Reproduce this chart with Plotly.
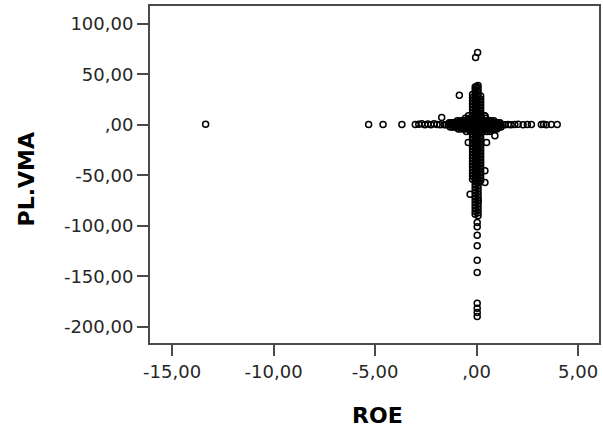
import plotly.graph_objects as go

# ---- axis ticks ----
x_tickvals = [-15, -10, -5, 0, 5]
x_ticktext = ["-15,00", "-10,00", "-5,00", ",00", "5,00"]
y_tickvals = [100, 50, 0, -50, -100, -150, -200]
y_ticktext = ["100,00", "50,00", ",00", "-50,00", "-100,00", "-150,00", "-200,00"]

# ---- sparse / isolated observations (ROE, PL.VMA) ----
sparse_roe = [-13.35, -5.32, -4.61, -3.68, -3.02, -2.85, -2.70, -2.55, -2.40, -2.25,
              -2.10, -1.95, -1.80, -1.72,
              1.56, 1.70, 1.88, 2.05, 2.29, 2.50, 2.70, 3.19, 3.30, 3.43, 3.68, 3.97,
              0.05, -0.05, -0.85, 0.00, 0.05,
              0.41, -0.41, 0.49, 0.90, 0.75, 0.41, 0.41, -0.32, 0.08,
              0.03, 0.03, 0.03, 0.03, 0.03, 0.03, 0.03, 0.03, 0.03, 0.03]
sparse_pl = [0.5, 0.3, 0.3, 0.3, 0.3, 0.5, 1.0, 0.2, 0.8, 0.0,
             1.2, 0.4, 0.0, 7.2,
             0.3, 0.0, 0.3, 0.5, 0.0, 0.3, 0.3, 0.3, 0.5, 0.0, 0.3, 0.3,
             71.7, 66.7, 29.4, 38.0, 33.0,
             8.9, -17.5, -17.5, -10.9, -5.0, -45.6, -57.2, -68.7, -75.0,
             -96.8, -101.0, -109.3, -119.9, -134.1, -146.4, -176.7, -181.7, -186.0, -190.0]

# ---- dense horizontal band: rows of observations around PL.VMA = 0 ----
hrow_pl = [0.0, 2.0, -2.0, 4.0, -4.0, 6.5, -6.5, 9.0]
hrow_roe = [
    [-1.6, -1.5, -1.4, -1.3, -1.2, -1.1, -1.0, -0.9, -0.8, -0.7, -0.6, -0.5, -0.4, -0.3,
     -0.2, -0.1, 0.0, 0.1, 0.2, 0.3, 0.4, 0.5, 0.6, 0.7, 0.8, 0.9, 1.0, 1.1, 1.2, 1.3, 1.4],
    [-1.35, -1.25, -1.15, -1.05, -0.95, -0.85, -0.75, -0.65, -0.55, -0.45, -0.35, -0.25,
     -0.15, -0.05, 0.05, 0.15, 0.25, 0.35, 0.45, 0.55, 0.65, 0.75, 0.85, 0.95, 1.05, 1.15],
    [-1.3, -1.2, -1.1, -1.0, -0.9, -0.8, -0.7, -0.6, -0.5, -0.4, -0.3, -0.2, -0.1, 0.0,
     0.1, 0.2, 0.3, 0.4, 0.5, 0.6, 0.7, 0.8, 0.9, 1.0, 1.1, 1.2],
    [-0.95, -0.8, -0.65, -0.5, -0.35, -0.2, -0.05, 0.1, 0.25, 0.4, 0.55, 0.7, 0.85],
    [-0.9, -0.75, -0.6, -0.45, -0.3, -0.15, 0.0, 0.15, 0.3, 0.45, 0.6, 0.75, 0.9, 1.0],
    [-0.55, -0.35, -0.15, 0.05, 0.25, 0.45],
    [-0.5, -0.3, -0.1, 0.1, 0.3, 0.5, 0.65],
    [-0.4, -0.2, 0.2, 0.4],
]

# ---- dense vertical band: columns of observations around ROE = 0 ----
vcol_roe = [-0.2, -0.07, 0.07, 0.2]
vcol_pl = [
    [30, 27, 24, 21, 18, 15, 12, 9, 6, 3, 0, -3, -6, -9, -12, -15, -18, -21, -24, -27,
     -30, -33, -36, -39, -42, -45, -48, -51, -54],
    [37.5, 34.5, 31.5, 28.5, 25.5, 22.5, 19.5, 16.5, 13.5, 10.5, 7.5, 4.5, 1.5, -1.5,
     -4.5, -7.5, -10.5, -13.5, -16.5, -19.5, -22.5, -25.5, -28.5, -31.5, -34.5, -37.5,
     -40.5, -43.5, -46.5, -49.5, -52.5, -55.5, -58.5, -61.5, -64.5, -67.5, -70.5, -73.5,
     -76.5, -79.5, -82.5, -85.5, -88.5],
    [39, 36, 33, 30, 27, 24, 21, 18, 15, 12, 9, 6, 3, 0, -3, -6, -9, -12, -15, -18, -21,
     -24, -27, -30, -33, -36, -39, -42, -45, -48, -51, -54, -57, -60, -63, -66, -69, -72,
     -75, -78, -81, -84, -87, -90],
    [28.5, 25.5, 22.5, 19.5, 16.5, 13.5, 10.5, 7.5, 4.5, 1.5, -1.5, -4.5, -7.5, -10.5,
     -13.5, -16.5, -19.5, -22.5, -25.5, -28.5, -31.5, -34.5, -37.5, -40.5, -43.5, -46.5,
     -49.5, -52.5, -55.5],
]

marker_style = dict(symbol="circle-open", size=6, color="black",
                    line=dict(width=1.5, color="black"))

fig = go.Figure()


def add_points(xs, ys):
    fig.add_trace(go.Scatter(x=xs, y=ys, mode="markers", marker=marker_style,
                             showlegend=False, hoverinfo="x+y"))


for row_y, row_x in zip(hrow_pl, hrow_roe):
    add_points(row_x, [row_y] * len(row_x))
for col_x, col_y in zip(vcol_roe, vcol_pl):
    add_points([col_x] * len(col_y), col_y)
add_points(sparse_roe, sparse_pl)

axis_common = dict(
    showgrid=False, zeroline=False, showline=True, linecolor="#4a4a4a", linewidth=2,
    mirror=True, ticks="outside", ticklen=11, tickwidth=2, tickcolor="#4a4a4a",
    tickfont=dict(family="DejaVu Sans", size=18, color="#262626"),
)

fig.update_layout(
    width=603, height=434,
    margin=dict(l=150, r=2, t=6, b=91),
    paper_bgcolor="white", plot_bgcolor="white",
    xaxis=dict(range=[-16.09, 6.03], tickvals=x_tickvals, ticktext=x_ticktext, **axis_common),
    yaxis=dict(range=[-216.2, 117.8], tickvals=y_tickvals, ticktext=y_ticktext, **axis_common),
    annotations=[
        dict(text="<b>ROE</b>", xref="paper", yref="paper", x=0.5075, y=-0.2166,
             xanchor="center", yanchor="middle", showarrow=False,
             font=dict(family="DejaVu Sans", size=22, color="black")),
        dict(text="<b>PL.VMA</b>", xref="paper", yref="paper", x=-0.275, y=0.484,
             xanchor="center", yanchor="middle", showarrow=False, textangle=-90,
             font=dict(family="DejaVu Sans", size=22, color="black")),
    ],
)

fig.write_html("out.html")
